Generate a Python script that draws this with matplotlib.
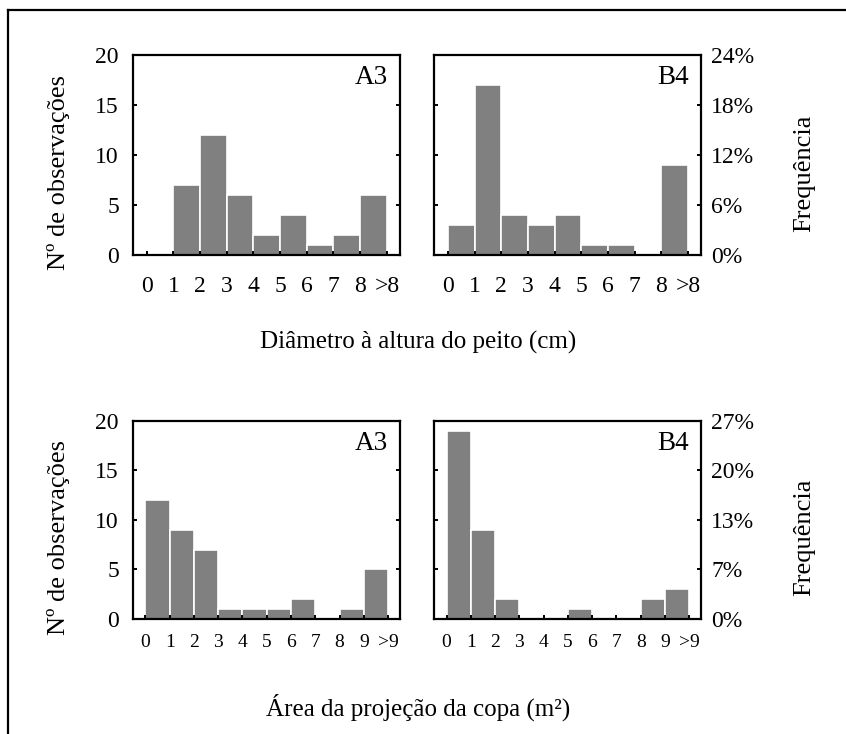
import matplotlib.pyplot as plt
from matplotlib.lines import Line2D
import numpy as np

plt.rcParams['font.family'] = ['Liberation Serif', 'DejaVu Serif']

# Diâmetro à altura do peito (cm): classes 0-1, 1-2, ..., 8->8
dap_labels = ['0', '1', '2', '3', '4', '5', '6', '7', '8', '>8']
dap_a3 = [0, 7, 12, 6, 2, 4, 1, 2, 6]
dap_b4 = [3, 17, 4, 3, 4, 1, 1, 0, 9]

# Área da projeção da copa (m²): classes 0-1, ..., 9->9
copa_labels = ['0', '1', '2', '3', '4', '5', '6', '7', '8', '9', '>9']
copa_a3 = [12, 9, 7, 1, 1, 1, 2, 0, 1, 5]
copa_b4 = [19, 9, 2, 0, 0, 1, 0, 0, 2, 3]

count_ticks = [0, 5, 10, 15, 20]

fig = plt.figure(figsize=(8.46, 7.34), dpi=100)

# frame around the figure (left and top edges)
fig.add_artist(Line2D([8 / 846, 8 / 846], [0, 1 - 10 / 734], color='black', lw=1.6))
fig.add_artist(Line2D([8 / 846, 1], [1 - 10 / 734, 1 - 10 / 734], color='black', lw=1.6))

w = 0.316
rows = [
    (0.6526, 0.2725, dap_labels, dap_a3, dap_b4, 17, 15,
     'Diâmetro à altura do peito (cm)', 0.533),
    (0.1567, 0.2698, copa_labels, copa_a3, copa_b4, 14, 11,
     'Área da projeção da copa (m²)', 0.036),
]

for bottom, h, labels, a3, b4, xfs, xpad, xlabel, xl_y in rows:
    total = sum(a3) + sum(b4)
    for col, (left, vals, name) in enumerate([(0.157, a3, 'A3'), (0.513, b4, 'B4')]):
        ax = fig.add_axes([left, bottom, w, h])
        x = np.arange(len(vals)) + 0.5
        ax.bar(x, vals, width=1.0, color='#808080', edgecolor='white', linewidth=1.2)
        ax.set_xlim(-0.52, len(labels) - 0.5)
        ax.set_ylim(0, 20)
        ax.set_xticks(np.arange(len(labels)))
        ax.set_xticklabels(labels, fontsize=xfs)
        ax.set_yticks(count_ticks)
        for s in ax.spines.values():
            s.set_linewidth(1.6)
        ax.tick_params(axis='x', direction='in', length=3, width=1.4, pad=xpad)
        ax.tick_params(axis='y', direction='in', length=3, width=1.4,
                       left=True, right=True, labelsize=17)
        if col == 0:
            ax.tick_params(axis='y', labelleft=True, labelright=False, pad=10)
            ax.set_ylabel('Nº de observações', fontsize=19)
            ax.yaxis.set_label_coords(-0.236, 0.41)
        else:
            ax.tick_params(axis='y', labelleft=False, labelright=True, pad=7)
            ax.set_yticklabels([f'{round(100 * t / total)}%' for t in count_ticks])
            ax.yaxis.set_label_position('right')
            ax.set_ylabel('Frequência', fontsize=19)
            ax.yaxis.set_label_coords(1.344, 0.41)
        ax.text(0.955, 0.885, name, transform=ax.transAxes, ha='right', va='center',
                fontsize=19.5)
    fig.text(0.494, xl_y, xlabel, ha='center', va='center', fontsize=18)

fig.savefig('out.png', dpi=100)
